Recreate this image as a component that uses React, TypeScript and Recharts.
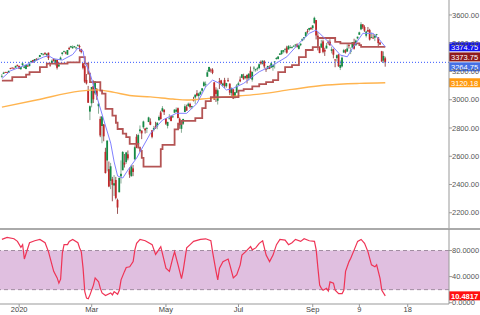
import React from "react";
import {
  ComposedChart,
  Bar,
  Line,
  XAxis,
  YAxis,
  ReferenceLine,
  ReferenceArea,
} from "recharts";

// daily bars, Dec 13 2019 .. Oct 30 2020
const open = [
  3166, 3183, 3195, 3195, 3192, 3224, 3227, 3226, 3227, 3247, 3240, 3216,
  3245, 3226, 3218, 3241, 3238, 3266, 3281, 3271, 3285, 3282, 3302, 3323, 3321, 3330, 3316, 3333, 3248, 3256, 3290, 3256, 3282,
  3235, 3281, 3324, 3344, 3335, 3319, 3366, 3370, 3365, 3379, 3370, 3380, 3380, 3360, 3258, 3238, 3140, 3063, 2916,
  2975, 3097, 3045, 3076, 2954, 2864, 2814, 2826, 2631, 2570, 2509, 2426, 2437, 2393, 2432, 2291, 2345, 2458, 2501, 2555, 2558, 2614,
  2499, 2459, 2514, 2578, 2738, 2686, 2777, 2782, 2805, 2796, 2799, 2842, 2845, 2784, 2787, 2810, 2812, 2855, 2910, 2919, 2930,
  2869, 2815, 2868, 2884, 2879, 2908, 2915, 2940, 2865, 2794, 2830, 2913, 2948, 2953, 2970, 2948, 3004, 3016, 3046, 3026,
  3038, 3064, 3098, 3111, 3163, 3199, 3213, 3213, 3123, 3071, 2993, 3131, 3137, 3101, 3140, 3095, 3138, 3114, 3047, 3074, 3018, 3050,
  3105, 3143, 3155, 3166, 3154, 3176, 3152, 3205, 3142, 3225, 3209, 3224, 3224, 3268, 3255, 3272, 3219, 3219, 3234, 3227, 3231, 3270,
  3288, 3289, 3318, 3323, 3340, 3357, 3370, 3356, 3373, 3368, 3380, 3388, 3392, 3360, 3386, 3418, 3435, 3449, 3486, 3495, 3509,
  3507, 3543, 3564, 3453, 3371, 3369, 3413, 3353, 3363, 3407, 3411, 3346, 3357, 3285, 3295, 3320, 3226, 3236, 3334, 3350, 3341,
  3386, 3339, 3368, 3408, 3385, 3434, 3460, 3498, 3534, 3515, 3453, 3493, 3493, 3439, 3439, 3439, 3464, 3441, 3404, 3343, 3277, 3293,
];
const high = [
  3182, 3198, 3198, 3198, 3205, 3226, 3229, 3226, 3240, 3248, 3240, 3232,
  3258, 3246, 3247, 3245, 3267, 3276, 3282, 3288, 3295, 3299, 3317, 3330, 3329, 3337, 3327, 3334, 3258, 3285, 3293, 3285, 3283,
  3268, 3306, 3337, 3348, 3342, 3352, 3375, 3382, 3385, 3381, 3375, 3394, 3390, 3360, 3260, 3247, 3182, 3098, 2960,
  3091, 3137, 3130, 3083, 2985, 2882, 2883, 2826, 2660, 2711, 2563, 2553, 2454, 2467, 2454, 2300, 2449, 2571, 2637, 2616, 2631, 2641,
  2522, 2539, 2538, 2677, 2756, 2760, 2818, 2782, 2852, 2801, 2807, 2880, 2868, 2785, 2815, 2844, 2842, 2888, 2922, 2955, 2931,
  2869, 2844, 2898, 2888, 2892, 2932, 2945, 2945, 2874, 2852, 2865, 2968, 2965, 2980, 2979, 2957, 3021, 3037, 3068, 3050,
  3063, 3081, 3131, 3129, 3211, 3233, 3222, 3223, 3124, 3088, 3079, 3154, 3141, 3121, 3155, 3120, 3155, 3116, 3086, 3074, 3054, 3111,
  3128, 3165, 3182, 3184, 3168, 3179, 3186, 3235, 3200, 3238, 3220, 3233, 3258, 3278, 3280, 3280, 3228, 3241, 3243, 3264, 3250, 3272,
  3302, 3307, 3330, 3351, 3352, 3364, 3382, 3387, 3387, 3378, 3387, 3395, 3399, 3390, 3399, 3432, 3444, 3481, 3501, 3509, 3514,
  3528, 3588, 3564, 3479, 3379, 3424, 3425, 3368, 3402, 3419, 3428, 3376, 3362, 3286, 3320, 3323, 3279, 3307, 3360, 3358, 3393,
  3397, 3370, 3409, 3432, 3426, 3447, 3482, 3549, 3534, 3527, 3489, 3515, 3502, 3476, 3465, 3461, 3466, 3442, 3409, 3346, 3342, 3305,
];
const low = [
  3156, 3182, 3191, 3191, 3192, 3216, 3222, 3220, 3227, 3235, 3217, 3213,
  3236, 3222, 3215, 3233, 3236, 3263, 3260, 3268, 3278, 3281, 3302, 3318, 3316, 3320, 3302, 3281, 3234, 3256, 3271, 3242, 3214,
  3235, 3281, 3313, 3333, 3322, 3317, 3352, 3370, 3360, 3366, 3356, 3378, 3342, 3328, 3215, 3118, 3108, 2977, 2856,
  2946, 2977, 3034, 2999, 2901, 2735, 2692, 2706, 2478, 2493, 2381, 2367, 2281, 2319, 2295, 2192, 2345, 2407, 2500, 2520, 2545, 2571,
  2447, 2455, 2459, 2575, 2657, 2663, 2762, 2721, 2794, 2761, 2765, 2842, 2820, 2727, 2775, 2794, 2791, 2852, 2860, 2912, 2892,
  2821, 2797, 2862, 2848, 2870, 2907, 2910, 2869, 2794, 2766, 2821, 2913, 2922, 2953, 2938, 2934, 2988, 2970, 3024, 2999,
  3034, 3051, 3091, 3090, 3163, 3196, 3193, 3181, 2999, 2984, 2966, 3076, 3108, 3094, 3084, 3084, 3127, 3033, 3025, 3005, 3008, 3047,
  3101, 3124, 3155, 3142, 3145, 3115, 3136, 3149, 3128, 3200, 3198, 3205, 3215, 3248, 3249, 3221, 3197, 3214, 3217, 3227, 3205, 3221,
  3284, 3285, 3317, 3318, 3329, 3335, 3326, 3356, 3363, 3362, 3379, 3370, 3369, 3355, 3379, 3414, 3422, 3444, 3468, 3484, 3494,
  3494, 3535, 3427, 3349, 3329, 3367, 3329, 3310, 3363, 3389, 3384, 3328, 3293, 3230, 3271, 3233, 3210, 3229, 3332, 3327, 3340,
  3362, 3323, 3368, 3355, 3385, 3428, 3458, 3492, 3500, 3480, 3441, 3480, 3419, 3435, 3433, 3415, 3441, 3372, 3387, 3268, 3259, 3234,
];
const close = [
  3169, 3191, 3192, 3191, 3205, 3221, 3224, 3223, 3240, 3240, 3221, 3231,
  3258, 3235, 3246, 3237, 3253, 3275, 3265, 3288, 3283, 3289, 3317, 3330, 3321, 3321, 3326, 3295, 3244, 3276, 3273, 3284, 3226,
  3249, 3298, 3334, 3345, 3328, 3352, 3358, 3379, 3374, 3380, 3370, 3386, 3373, 3338, 3226, 3128, 3116, 2979, 2954,
  3090, 3003, 3130, 3024, 2972, 2747, 2882, 2741, 2481, 2711, 2386, 2529, 2398, 2409, 2305, 2237, 2447, 2476, 2630, 2541, 2627, 2585,
  2470, 2527, 2489, 2664, 2660, 2750, 2790, 2762, 2846, 2783, 2800, 2875, 2823, 2737, 2799, 2798, 2837, 2878, 2863, 2940, 2912,
  2830, 2843, 2868, 2849, 2882, 2930, 2930, 2870, 2820, 2852, 2864, 2954, 2923, 2972, 2949, 2955, 2992, 3036, 3029, 3044,
  3056, 3081, 3123, 3112, 3194, 3232, 3207, 3190, 3002, 3041, 3067, 3125, 3113, 3115, 3098, 3118, 3131, 3050, 3084, 3009, 3053, 3100,
  3116, 3130, 3180, 3145, 3169, 3152, 3185, 3155, 3197, 3227, 3216, 3225, 3251, 3257, 3276, 3236, 3215, 3239, 3218, 3258, 3246, 3271,
  3295, 3306, 3327, 3349, 3351, 3360, 3333, 3380, 3373, 3373, 3381, 3390, 3375, 3385, 3397, 3431, 3443, 3478, 3484, 3508, 3500,
  3526, 3580, 3455, 3427, 3331, 3398, 3339, 3341, 3383, 3401, 3385, 3357, 3319, 3281, 3315, 3237, 3246, 3298, 3351, 3335, 3363,
  3380, 3348, 3408, 3361, 3419, 3446, 3477, 3534, 3512, 3489, 3483, 3483, 3426, 3443, 3436, 3453, 3465, 3401, 3391, 3271, 3310, 3264.75,
];

// [bar index, value]
const tenkan: [number, number][] = [
  [0, 3150], [5, 3205], [10, 3228], [18, 3267], [24, 3302], [27, 3312], [30, 3290], [35, 3281],
  [41, 3320], [44, 3366], [47, 3345], [48, 3270], [51, 3187], [55, 3021], [59, 2856], [63, 2693],
  [65, 2560], [67, 2460], [70, 2446], [73, 2503], [78, 2587], [86, 2762], [93, 2856], [101, 2904],
  [107, 2904], [113, 2974], [118, 3092], [122, 3139], [126, 3116], [130, 3069], [134, 3081], [140, 3116],
  [149, 3198], [157, 3245], [165, 3304], [172, 3399], [178, 3470], [182, 3493], [186, 3446], [190, 3399],
  [196, 3316], [200, 3304], [203, 3364], [209, 3470], [215, 3470], [218, 3434], [222, 3374.75],
];
const kijun: [number, number][] = [
  [0, 3135], [6, 3160], [14, 3178], [16, 3196], [22, 3231], [26, 3255], [38, 3265], [45, 3302],
  [48, 3256], [50, 3185], [51, 3125], [57, 3064], [58, 3043], [60, 2936], [64, 2887], [66, 2837],
  [67, 2793], [70, 2760], [72, 2736], [74, 2687], [79, 2661], [80, 2638], [81, 2588], [82, 2527],
  [92, 2650], [93, 2680], [100, 2790], [102, 2830], [104, 2850], [112, 2870], [116, 2940], [118, 2990],
  [121, 3019], [137, 3065], [140, 3075], [145, 3095], [149, 3110], [153, 3125], [157, 3139], [160, 3196],
  [164, 3231], [168, 3245], [172, 3302], [176, 3352], [180, 3373], [183, 3437], [193, 3409], [196, 3399],
  [207, 3387], [208, 3373.75], [222, 3373.75],
];
const sma: [number, number][] = [
  [0, 2948], [20, 2998], [45, 3061], [55, 3070], [65, 3052], [74, 3030], [86, 3020], [99, 3005],
  [107, 2998], [120, 3010], [138, 3028], [149, 3040], [168, 3073], [188, 3104], [207, 3116], [222, 3120.18],
];
const osc: [number, number][] = [
  [0, 97], [3, 100], [7, 98], [9, 94], [11, 85], [12, 89], [13, 67], [16, 92], [19, 95], [22, 97],
  [25, 92], [27, 78], [29, 58], [30, 48], [32, 38], [33, 30], [34, 36], [35, 76], [36, 89], [38, 89],
  [39, 94], [41, 97], [44, 92], [45, 84], [46, 78], [47, 53], [48, 17], [49, 7], [50, 6], [51, 12],
  [53, 27], [54, 38], [56, 32], [57, 22], [58, 15], [60, 11], [63, 15], [64, 12], [65, 17], [67, 13],
  [68, 19], [69, 35], [71, 48], [72, 54], [74, 55], [76, 63], [77, 81], [78, 91], [80, 97], [83, 95],
  [87, 89], [89, 74], [90, 78], [92, 86], [95, 53], [97, 48], [99, 69], [100, 78], [102, 58], [104, 37],
  [105, 50], [107, 84], [109, 89], [111, 94], [115, 97], [118, 98], [121, 95], [122, 78], [124, 48], [125, 35],
  [126, 53], [128, 63], [131, 67], [132, 58], [134, 38], [136, 43], [138, 58], [139, 73], [141, 78], [144, 86],
  [145, 81], [147, 84], [149, 91], [151, 95], [153, 73], [155, 63], [157, 73], [159, 89], [161, 97], [164, 96],
  [166, 89], [168, 92], [170, 97], [173, 94], [175, 98], [178, 95], [181, 94], [182, 81], [183, 53], [184, 27],
  [185, 22], [186, 19], [188, 22], [189, 18], [190, 32], [192, 30], [193, 19], [195, 14], [197, 14], [198, 19],
  [199, 48], [201, 63], [202, 68], [204, 81], [206, 94], [208, 97], [210, 91], [212, 78], [214, 58], [216, 55],
  [217, 58], [219, 37], [220, 19], [222, 10.4817],
];

const xTicks = [10, 52, 95, 137, 180, 207, 235];
const xLabels = ["2020", "Mar", "May", "Jul", "Sep", "9", "18"];
const priceTicks = [2200, 2400, 2600, 2800, 3000, 3200, 3400, 3600];
const oscTicks = [0, 40, 80];

const candles = close.map((c, i) => ({ i, o: open[i], h: high[i], l: low[i], c }));
const toPts = (arr: [number, number][]) => arr.map(([i, v]) => ({ i, v }));

const FONT = "Liberation Sans, Arial, sans-serif";
const X_DOMAIN: [number, number] = [-1.1, 258.9];
const last = close[close.length - 1];

const Candle = (props: any) => {
  const { x, y, width, height, payload } = props;
  if (x == null || y == null) return null;
  const top = Math.min(y, y + height);
  const bottom = Math.max(y, y + height);
  const span = payload.h - payload.l;
  const ppu = span > 0 ? (bottom - top) / span : 0;
  const yo = top + (payload.h - payload.o) * ppu;
  const yc = top + (payload.h - payload.c) * ppu;
  const up = payload.c >= payload.o;
  const cx = x + width / 2;
  return (
    <g>
      <line x1={cx} x2={cx} y1={top} y2={bottom} stroke={up ? "#88ab95" : "#9a5656"} strokeWidth={1} />
      <rect
        x={cx - 0.9}
        y={Math.min(yo, yc)}
        width={1.8}
        height={Math.max(0.8, Math.abs(yc - yo))}
        fill={up ? "#148a45" : "#c0282a"}
      />
    </g>
  );
};

const Tag = (props: any) => {
  const { viewBox, text, bg, dy = 0, bold } = props;
  if (!viewBox) return null;
  const x = viewBox.x + viewBox.width;
  const y = viewBox.y + dy;
  return (
    <g>
      <rect x={x} y={y - 4.5} width={31} height={9} fill={bg} />
      <text x={x + 2} y={y + 2.8} fontSize={7.5} fill="#fff" fontFamily={FONT} fontWeight={bold ? 700 : 400}>
        {text}
      </text>
    </g>
  );
};

const axisTick = { fontSize: 7.5, fill: "#555", fontFamily: FONT };

export default function App() {
  return (
    <div style={{ position: "absolute", left: 0, top: 0, width: 480, height: 315, background: "#fff" }}>
      <div style={{ position: "absolute", left: 0, top: 0 }}>
        <ComposedChart width={480} height={229} data={candles} margin={{ top: 0, right: 0, bottom: 0, left: 0 }}>
          <XAxis type="number" dataKey="i" domain={X_DOMAIN} allowDataOverflow hide />
          <YAxis
            orientation="right"
            width={31}
            domain={[2085, 3706]}
            allowDataOverflow
            ticks={priceTicks}
            tickFormatter={(v: number) => v.toFixed(2)}
            tick={axisTick}
            tickSize={3}
            tickMargin={0}
            axisLine={{ stroke: "#999" }}
            tickLine={{ stroke: "#999" }}
          />
          <Line data={toPts(sma)} dataKey="v" type="monotone" stroke="#ffb44f" strokeWidth={1.4} dot={false} activeDot={false} isAnimationActive={false} />
          <ReferenceLine y={last} stroke="#3355ff" strokeDasharray="1 2" />
          <Bar dataKey={(d: any) => [d.l, d.h]} barSize={1.8} shape={<Candle />} activeBar={false} isAnimationActive={false} />
          <Line data={toPts(kijun)} dataKey="v" type="stepAfter" stroke="#b45454" strokeWidth={1.8} dot={false} activeDot={false} isAnimationActive={false} />
          <Line data={toPts(tenkan)} dataKey="v" type="linear" stroke="#8080ff" strokeWidth={1} dot={false} activeDot={false} isAnimationActive={false} />
          <ReferenceLine y={3374.75} strokeOpacity={0} label={<Tag text="3374.75" bg="#1414f0" />} />
          <ReferenceLine y={3373.75} strokeOpacity={0} label={<Tag text="3373.75" bg="#8e1a1a" dy={10} />} />
          <ReferenceLine y={last} strokeOpacity={0} label={<Tag text="3264.75" bg="#4470e6" dy={4.5} />} />
          <ReferenceLine y={3120.18} strokeOpacity={0} label={<Tag text="3120.18" bg="#ff9a10" />} />
        </ComposedChart>
      </div>
      <div style={{ position: "absolute", left: 0, top: 228, width: 480, height: 1.5, background: "#aaa" }} />
      <div style={{ position: "absolute", left: 0, top: 229 }}>
        <ComposedChart width={480} height={86} margin={{ top: 0, right: 0, bottom: 0, left: 0 }}>
          <XAxis
            type="number"
            dataKey="i"
            domain={X_DOMAIN}
            allowDataOverflow
            ticks={xTicks}
            tickFormatter={(v: number) => xLabels[xTicks.indexOf(v)] ?? ""}
            tick={{ fontSize: 7.5, fill: "#444", fontFamily: FONT }}
            tickSize={3}
            tickMargin={0}
            height={11}
            axisLine={{ stroke: "#999" }}
            tickLine={{ stroke: "#999" }}
            interval={0}
          />
          <YAxis
            orientation="right"
            width={31}
            domain={[-2, 113]}
            allowDataOverflow
            ticks={oscTicks}
            tickFormatter={(v: number) => v.toFixed(4)}
            tick={axisTick}
            tickSize={3}
            tickMargin={0}
            axisLine={{ stroke: "#999" }}
            tickLine={{ stroke: "#999" }}
          />
          <ReferenceArea y1={20} y2={80} fill="#e0bfe0" fillOpacity={1} stroke="none" />
          <ReferenceLine y={80} stroke="#a08ca0" strokeDasharray="4 3" />
          <ReferenceLine y={20} stroke="#a08ca0" strokeDasharray="4 3" />
          <Line data={toPts(osc)} dataKey="v" type="linear" stroke="#ef3355" strokeWidth={1.2} dot={false} activeDot={false} isAnimationActive={false} />
          <ReferenceLine y={10.4817} strokeOpacity={0} label={<Tag text="10.4817" bg="#ff1010" bold />} />
        </ComposedChart>
      </div>
    </div>
  );
}
